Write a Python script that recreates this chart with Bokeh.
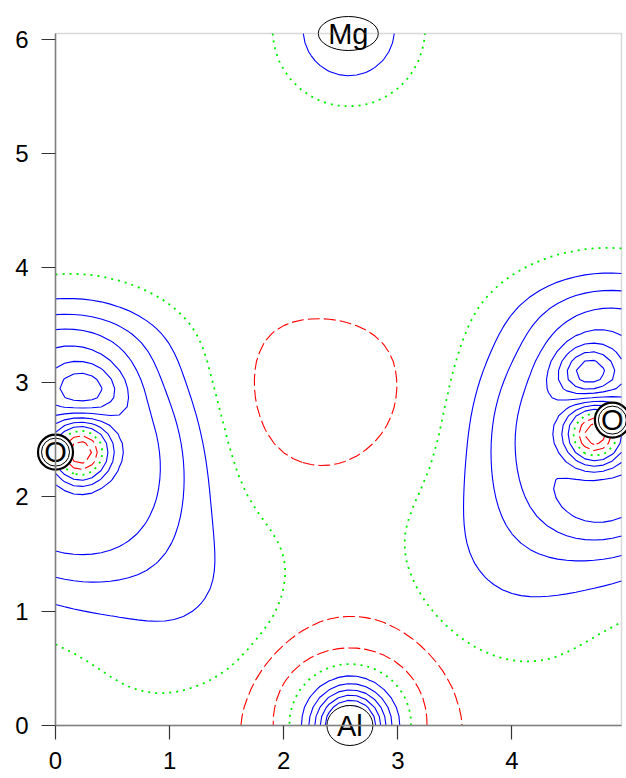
import numpy as np
from contourpy import contour_generator
from bokeh.plotting import figure
from bokeh.models import Range1d, BoxAnnotation, ColumnDataSource
from bokeh.core.properties import value
from bokeh.embed import file_html
from bokeh.resources import INLINE

# ---- axes / frame ----
x_ticks = [0, 1, 2, 3, 4]
y_ticks = [0, 1, 2, 3, 4, 5, 6]
x_extent = [0.0, 4.96]
y_extent = [0.0, 6.05]

# ---- atom labels ----
atom_names = ["Mg", "Al", "O", "O"]
atom_x = [2.566, 2.58, 0.0, 4.88]
atom_y = [6.05, 0.0, 2.39, 2.67]

# ---- deformation-density model ----
comp_names = ["Mg", "Al core", "Al inner", "void", "O1 shell", "O1 tail", "O1 lobe",
              "O1 cap", "O1 core", "O2 shell", "O2 tail", "O2 lobe", "O2 cap",
              "O2 core", "O2 lower lobe"]
comp_x     = [2.57, 2.585, 2.585, 2.29, 0.15, 1.25, 0.24, 0.00, 0.22, 4.81, 3.80, 4.68, 4.96, 4.73, 4.78]
comp_y     = [6.08, 0.00, 0.00, 2.80, 2.35, 1.05, 2.93, 3.35, 2.39, 2.57, 1.30, 3.08, 3.60, 2.55, 1.95]
comp_sx    = [0.40, 0.25, 0.20, 0.64, 0.88, 0.75, 0.23, 0.60, 0.19, 0.88, 0.75, 0.19, 0.60, 0.19, 0.30]
comp_sy    = [0.40, 0.25, 0.20, 0.53, 0.95, 0.50, 0.17, 0.25, 0.20, 0.95, 0.50, 0.17, 0.26, 0.20, 0.22]
comp_amp   = [0.14, 0.30, 0.15, -0.042, 0.26, 0.070, 0.14, 0.075, -0.37, 0.26, 0.065, 0.19, 0.06, -0.37, 0.05]
comp_pow   = [2.0, 2.0, 2.0, 2.0, 2.8, 2.0, 2.0, 2.0, 2.0, 2.8, 2.0, 2.0, 2.0, 2.0, 2.0]
comp_theta = [0, 0, 0, 0, 0, 45, 0, 0, 0, 0, -45, 0, 0, 0, 0]

ring_x = [2.585]
ring_y = [0.0]
ring_r = [0.81]
ring_w = [0.11]
ring_amp = [-0.056]

baseline = -0.035
neg_levels = [-0.20, -0.15, -0.10, -0.05]
zero_levels = [0.0]
pos_levels = [0.05, 0.10, 0.15, 0.20, 0.25, 0.30, 0.35, 0.40, 0.45]

# ---- evaluate field on a coarse grid ----
gx = np.linspace(x_extent[0], x_extent[1], 63)
gy = np.linspace(y_extent[0], y_extent[1], 77)
X, Y = np.meshgrid(gx, gy)
Z = np.full_like(X, baseline)
for cx, cy, sx, sy, a, pw, th in zip(comp_x, comp_y, comp_sx, comp_sy, comp_amp, comp_pow, comp_theta):
    t = np.deg2rad(th)
    u = (X - cx) * np.cos(t) + (Y - cy) * np.sin(t)
    v = -(X - cx) * np.sin(t) + (Y - cy) * np.cos(t)
    q = (u / sx) ** 2 + (v / sy) ** 2
    Z += a * np.exp(-0.5 * q ** (pw / 2.0))
for cx, cy, r0, w, a in zip(ring_x, ring_y, ring_r, ring_w, ring_amp):
    r = np.hypot(X - cx, Y - cy)
    Z += a * np.exp(-0.5 * ((r - r0) / w) ** 2)

gen = contour_generator(x=gx, y=gy, z=Z)


def lines_for(levels):
    xs, ys = [], []
    for lev in levels:
        for seg in gen.lines(lev):
            xs.append(seg[:, 0].tolist())
            ys.append(seg[:, 1].tolist())
    return xs, ys


# ---- layout: frame covers the whole canvas, axes sit at x=0 / y=0 ----
W, H = 626, 778
left_px, right_px, top_px, bottom_px = 55, 5, 33, 53
kx = (W - left_px - right_px) / (x_extent[1] - x_extent[0])
ky = (H - top_px - bottom_px) / (y_extent[1] - y_extent[0])
xr = Range1d(x_extent[0] - left_px / kx, x_extent[1] + right_px / kx)
yr = Range1d(y_extent[0] - bottom_px / ky, y_extent[1] + top_px / ky)

p = figure(width=W, height=H, output_backend="svg", toolbar_location=None,
           x_range=xr, y_range=yr, min_border=0)
p.grid.visible = False
p.outline_line_color = None
p.background_fill_color = "white"
p.border_fill_color = "white"

p.add_layout(BoxAnnotation(left=x_extent[0], right=x_extent[1], bottom=y_extent[0], top=y_extent[1],
                           fill_alpha=0, line_color="#808080", line_width=1.5))

for ax, ticks, ext, standoff in ((p.xaxis, x_ticks, x_extent, 12), (p.yaxis, y_ticks, y_extent, 13)):
    ax.fixed_location = 0
    ax.bounds = tuple(ext)
    ax.ticker = ticks
    ax.major_label_text_font = "Liberation Sans"
    ax.major_label_text_font_size = "24px"
    ax.major_label_text_color = "black"
    ax.major_tick_out = 14
    ax.major_tick_in = 0
    ax.minor_tick_out = 0
    ax.minor_tick_in = 0
    ax.major_label_standoff = standoff
    ax.axis_line_color = "#808080"
    ax.axis_line_width = 1.5
    ax.major_tick_line_color = "#333333"
    ax.major_tick_line_width = 1.2

xs, ys = lines_for(pos_levels)
p.multi_line(xs, ys, line_color="#0000ff", line_width=1.1)
xs, ys = lines_for(neg_levels)
p.multi_line(xs, ys, line_color="#ff0000", line_width=1.1, line_dash="12 4")
xs, ys = lines_for(zero_levels)
p.multi_line(xs, ys, line_color="#00ee00", line_width=1.8, line_dash="2 5")

# ---- atom labels (ellipses drawn in screen units) ----
ell_w = {"Mg": 60, "Al": 46, "O": 35}
ell_h = {"Mg": 34, "Al": 40, "O": 35}
lab = ColumnDataSource(dict(x=atom_x, y=atom_y, text=atom_names,
                            w=[ell_w[n] for n in atom_names], h=[ell_h[n] for n in atom_names],
                            w2=[ell_w[n] - 7 if n == "O" else 0 for n in atom_names],
                            lw=[2.2 if n == "O" else 1.0 for n in atom_names]))
p.ellipse(x="x", y="y", width="w", height="h", width_units="screen", height_units="screen",
          source=lab, fill_color="white", line_color="black", line_width="lw")
p.ellipse(x="x", y="y", width="w2", height="w2", width_units="screen", height_units="screen",
          source=lab, fill_color=None, line_color="black", line_width=1.0)
p.text(x="x", y="y", text="text", source=lab, text_align="center", text_baseline="middle",
       text_font=value("Liberation Sans"), text_font_size="29px", text_color="black")

open("out.html", "w").write(file_html(p, INLINE))
